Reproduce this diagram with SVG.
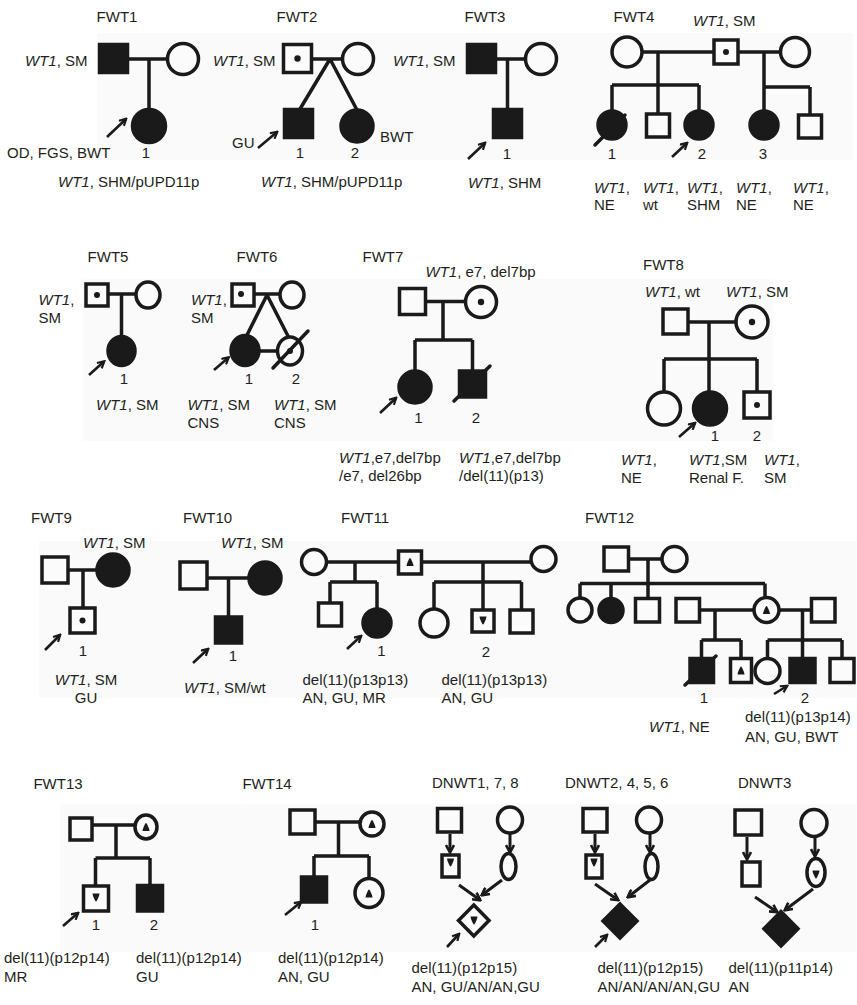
<svg xmlns="http://www.w3.org/2000/svg" width="857" height="1005" viewBox="0 0 857 1005">
<style>
text{font-family:"Liberation Sans",Arial,sans-serif;font-size:15px;fill:#231f20}
.i{font-style:italic}
.m{text-anchor:middle}
.c{fill:none;stroke:#1a1a1a;stroke-width:3.5;stroke-linecap:butt}
.o{fill:#fbfbfb;stroke:#1a1a1a;stroke-width:3.5}
.f{fill:#1a1a1a;stroke:#1a1a1a;stroke-width:3.5}
.d{fill:#1a1a1a}
.sl{stroke:#1a1a1a;stroke-width:3.5;stroke-linecap:round}
.pa{stroke:#1a1a1a;stroke-width:2.6;fill:none;marker-end:url(#ah)}
.da{stroke:#1a1a1a;stroke-width:3;fill:none;marker-end:url(#ah2)}
.bg{fill:#fafafa}
</style>
<defs>
<marker id="ah" viewBox="0 0 10 10" refX="8" refY="5" markerWidth="9" markerHeight="9" markerUnits="userSpaceOnUse" orient="auto"><path d="M1,1 L8.5,5 L1,9" fill="none" stroke="#1a1a1a" stroke-width="2.4"/></marker>
<marker id="ah2" viewBox="0 0 10 10" refX="8" refY="5" markerWidth="10" markerHeight="10" markerUnits="userSpaceOnUse" orient="auto"><path d="M1,1 L8.5,5 L1,9" fill="none" stroke="#1a1a1a" stroke-width="2.6"/></marker>
<path id="tri" d="M0,-4.5 C1,-4.5 3.5,2 3.5,3.5 L-3.5,3.5 C-3.5,2 -1,-4.5 0,-4.5Z"/>
<path id="itri" d="M0,4.5 C1,4.5 3.5,-2 3.5,-3.5 L-3.5,-3.5 C-3.5,-2 -1,4.5 0,4.5Z"/>
</defs>
<rect width="857" height="1005" fill="#fff"/>
<g id="backgrounds">
<rect class="bg" x="97" y="33" width="756" height="127"/>
<rect class="bg" x="83" y="279" width="690" height="162"/>
<rect class="bg" x="39" y="541" width="818" height="157"/>
<rect class="bg" x="60" y="804" width="797" height="148"/>
</g>

<g id="connectors">
<!-- FWT1 -->
<path class="c" d="M128,59 H167.5 M149,59 V109"/>
<!-- FWT2 -->
<path class="c" d="M312,59 H342.5 M330,59 L300,109 M330,59 L357,110"/>
<!-- FWT3 -->
<path class="c" d="M496,59 H525.5 M507.5,59 V109"/>
<!-- FWT4 -->
<path class="c" d="M642,52 H714 M738,52 H780.5 M658,52 V114 M612,85 H699 M612,85 V111 M699,85 V111 M764,52 V111 M764,87 H810 M810,87 V115"/>
<!-- FWT5 -->
<path class="c" d="M108,294 H136 M121.5,294 V336.5"/>
<!-- FWT6 -->
<path class="c" d="M254,294 H280 M267,295 L246.5,336 M267,295 L288.5,337 M259.5,351 H277"/>
<!-- FWT7 -->
<path class="c" d="M425.5,301.5 H465.5 M443,301.5 V340 M415,340 H472.5 M415,340 V370.5 M472.5,340 V371"/>
<!-- FWT8 -->
<path class="c" d="M688,322 H736 M709,322 V392 M664,359 H757 M664,359 V392 M757,359 V392"/>
<!-- FWT9 -->
<path class="c" d="M68,570 H97 M83,570 V608"/>
<!-- FWT10 -->
<path class="c" d="M207,578 H249 M228.5,578 V617"/>
<!-- FWT11 -->
<path class="c" d="M326.5,562 H398.5 M421.5,562 H531 M355,562 V582 M330,582 H377 M330,582 V603 M377,582 V609 M483,562 V610 M434,582 H521.5 M434,582 V609 M521.5,582 V610"/>
<!-- FWT12 -->
<path class="c" d="M628.5,559 H662 M648,559 V598.5 M580,583.5 H765 M580,583.5 V598 M611,583.5 V598.5 M765,583.5 V597.5 M699.5,610 H754 M779,610 H811.5 M715,610 V640 M701.5,640 H741 M701.5,640 V658.5 M741,640 V658.5 M802.5,610 V658.5 M767.5,640 H842 M767.5,640 V658.5 M842,640 V658.5"/>
<!-- FWT13 -->
<path class="c" d="M92,825 H135 M116,825 V858 M95.5,858 H150 M95.5,858 V886 M150,858 V885"/>
<!-- FWT14 -->
<path class="c" d="M315,822 H360 M338.5,822 V856 M314,856 H369 M314,856 V877 M369,856 V878.5"/>
<!-- DNWT arrows -->
<path class="da" d="M450,834 V852"/>
<path class="da" d="M510,834 V852"/>
<path class="da" d="M459,885 L480,900"/>
<path class="da" d="M502,880 L482,895"/>
<path class="da" d="M595,834 V852"/>
<path class="da" d="M650,834 V852"/>
<path class="da" d="M595,884 L618,900"/>
<path class="da" d="M650,880 L628,897"/>
<path class="da" d="M747,837 V859"/>
<path class="da" d="M815,838 V856"/>
<path class="da" d="M755,897 L777,912"/>
<path class="da" d="M813,889 L785,910"/>
<!-- proband arrows -->
<path class="pa" d="M107,137 L126,119"/>
<path class="pa" d="M258,148 L277,132"/>
<path class="pa" d="M468,159 L485,143"/>
<path class="pa" d="M672,157 L687,143"/>
<path class="pa" d="M89,375 L104,361.5"/>
<path class="pa" d="M214,370 L228.5,357.5"/>
<path class="pa" d="M380,413 L396,398"/>
<path class="pa" d="M679,437 L695,423"/>
<path class="pa" d="M45,650 L60,635"/>
<path class="pa" d="M193,663 L208,649"/>
<path class="pa" d="M347,649 L361,636"/>
<path class="pa" d="M774,694 L787,686"/>
<path class="pa" d="M63,926 L78,913"/>
<path class="pa" d="M285,915 L301,902"/>
<path class="pa" d="M447,947 L459,934"/>
<path class="pa" d="M595,947 L607,935"/>
</g>

<g id="FWT1">
<text x="117" y="22" class="m">FWT1</text>
<text x="25" y="66"><tspan class="i">WT1</tspan>, SM</text>
<rect class="f" x="99.5" y="44.5" width="28" height="28"/>
<circle class="o" cx="183" cy="59" r="15.5"/>
<circle class="f" cx="149" cy="126" r="16.5"/>
<text x="7" y="158">OD, FGS, BWT</text>
<text x="146" y="158" class="m">1</text>
<text x="58" y="187"><tspan class="i">WT1</tspan>, SHM/pUPD11p</text>
</g>

<g id="FWT2">
<text x="297" y="22" class="m">FWT2</text>
<text x="213" y="66"><tspan class="i">WT1</tspan>, SM</text>
<rect class="o" x="283.5" y="44.5" width="28" height="28"/>
<circle class="d" cx="297.5" cy="58.5" r="3.2"/>
<circle class="o" cx="358" cy="59" r="15.5"/>
<rect class="f" x="284.5" y="109.5" width="28" height="28"/>
<circle class="f" cx="357" cy="126" r="16"/>
<text x="232" y="148">GU</text>
<text x="380" y="142">BWT</text>
<text x="300" y="158" class="m">1</text>
<text x="355" y="158" class="m">2</text>
<text x="261" y="187"><tspan class="i">WT1</tspan>, SHM/pUPD11p</text>
</g>

<g id="FWT3">
<text x="485" y="22" class="m">FWT3</text>
<text x="393" y="66"><tspan class="i">WT1</tspan>, SM</text>
<rect class="f" x="467.5" y="44.5" width="28" height="28"/>
<circle class="o" cx="541" cy="59" r="15.5"/>
<rect class="f" x="493.5" y="109.5" width="28" height="28"/>
<text x="507" y="159" class="m">1</text>
<text x="468" y="188"><tspan class="i">WT1</tspan>, SHM</text>
</g>

<g id="FWT4">
<text x="634" y="22" class="m">FWT4</text>
<text x="693" y="26"><tspan class="i">WT1</tspan>, SM</text>
<circle class="o" cx="627" cy="52" r="15"/>
<rect class="o" x="714" y="40" width="24" height="24"/>
<circle class="d" cx="726" cy="52" r="3"/>
<circle class="o" cx="795" cy="52" r="14.5"/>
<circle class="f" cx="612" cy="125" r="14"/>
<line class="sl" x1="595" y1="145" x2="625" y2="115"/>
<rect class="o" x="646.5" y="114" width="23" height="23"/>
<circle class="f" cx="699" cy="125" r="14"/>
<circle class="f" cx="764" cy="125" r="14"/>
<rect class="o" x="798.5" y="115" width="23" height="23"/>
<text x="612" y="159" class="m">1</text>
<text x="702" y="159" class="m">2</text>
<text x="763" y="159" class="m">3</text>
<text x="594" y="193"><tspan class="i">WT1</tspan>,</text><text x="594" y="210">NE</text>
<text x="643" y="193"><tspan class="i">WT1</tspan>,</text><text x="643" y="210">wt</text>
<text x="687" y="193"><tspan class="i">WT1</tspan>,</text><text x="687" y="210">SHM</text>
<text x="736" y="193"><tspan class="i">WT1</tspan>,</text><text x="736" y="210">NE</text>
<text x="793" y="193"><tspan class="i">WT1</tspan>,</text><text x="793" y="210">NE</text>
</g>

<g id="FWT5">
<text x="108" y="262" class="m">FWT5</text>
<text x="38.5" y="305"><tspan class="i">WT1</tspan>,</text><text x="38.5" y="323">SM</text>
<rect class="o" x="86" y="284" width="22" height="22"/>
<circle class="d" cx="97" cy="295" r="3"/>
<ellipse class="o" cx="148" cy="295" rx="12" ry="13"/>
<ellipse class="f" cx="121.5" cy="351" rx="13.5" ry="14.5"/>
<text x="124" y="384" class="m">1</text>
<text x="96" y="410"><tspan class="i">WT1</tspan>, SM</text>
</g>

<g id="FWT6">
<text x="257" y="262" class="m">FWT6</text>
<text x="191" y="305"><tspan class="i">WT1</tspan>,</text><text x="191" y="323">SM</text>
<rect class="o" x="232" y="284" width="22" height="22"/>
<circle class="d" cx="241" cy="294" r="3"/>
<ellipse class="o" cx="292" cy="295" rx="12" ry="13"/>
<ellipse class="f" cx="245" cy="350.5" rx="14" ry="15"/>
<ellipse class="o" cx="290" cy="351" rx="12.5" ry="14"/>
<circle class="d" cx="290" cy="351" r="3"/>
<line class="sl" x1="273" y1="368" x2="308" y2="331"/>
<text x="249" y="384" class="m">1</text>
<text x="296" y="384" class="m">2</text>
<text x="187.5" y="410"><tspan class="i">WT1</tspan>, SM</text><text x="187.5" y="428">CNS</text>
<text x="274" y="410"><tspan class="i">WT1</tspan>, SM</text><text x="274" y="428">CNS</text>
</g>

<g id="FWT7">
<text x="362.5" y="262">FWT7</text>
<text x="425.5" y="277"><tspan class="i">WT1</tspan>, e7, del7bp</text>
<rect class="o" x="399.5" y="288.5" width="26" height="26"/>
<circle class="o" cx="481" cy="302" r="15.5"/>
<circle class="d" cx="481" cy="302" r="3.2"/>
<circle class="f" cx="415" cy="387" r="16"/>
<rect class="f" x="459.5" y="371" width="26" height="26"/>
<line class="sl" x1="454" y1="401" x2="490" y2="366"/>
<text x="418.5" y="423" class="m">1</text>
<text x="476" y="423" class="m">2</text>
<text x="339" y="463"><tspan class="i">WT1</tspan>,e7,del7bp</text><text x="339" y="481">/e7, del26bp</text>
<text x="459" y="463"><tspan class="i">WT1</tspan>,e7,del7bp</text><text x="459" y="481">/del(11)(p13)</text>
</g>

<g id="FWT8">
<text x="643" y="270">FWT8</text>
<text x="645" y="297"><tspan class="i">WT1</tspan>, wt</text>
<text x="726" y="297"><tspan class="i">WT1</tspan>, SM</text>
<rect class="o" x="663" y="309" width="25" height="25"/>
<circle class="o" cx="752" cy="322" r="16"/>
<circle class="d" cx="752" cy="322" r="3.2"/>
<circle class="o" cx="664" cy="408.5" r="16.5"/>
<circle class="f" cx="710" cy="408.5" r="16.5"/>
<rect class="o" x="744" y="392" width="26" height="26"/>
<circle class="d" cx="757" cy="405" r="3"/>
<text x="715" y="441" class="m">1</text>
<text x="757" y="441" class="m">2</text>
<text x="621" y="465"><tspan class="i">WT1</tspan>,</text><text x="621" y="483">NE</text>
<text x="689" y="465"><tspan class="i">WT1</tspan>,SM</text><text x="689" y="483">Renal F.</text>
<text x="764" y="465"><tspan class="i">WT1</tspan>,</text><text x="764" y="483">SM</text>
</g>

<g id="FWT9">
<text x="31" y="523">FWT9</text>
<text x="83" y="548"><tspan class="i">WT1</tspan>, SM</text>
<rect class="o" x="42" y="557" width="26" height="26"/>
<circle class="f" cx="113" cy="570" r="16"/>
<rect class="o" x="70" y="608" width="25" height="25"/>
<circle class="d" cx="82.5" cy="620.5" r="3"/>
<text x="83" y="656" class="m">1</text>
<text x="86" y="685" class="m"><tspan class="i">WT1</tspan>, SM</text>
<text x="86" y="703" class="m">GU</text>
</g>

<g id="FWT10">
<text x="183" y="523">FWT10</text>
<text x="221" y="548"><tspan class="i">WT1</tspan>, SM</text>
<rect class="o" x="180" y="562" width="27" height="27"/>
<circle class="f" cx="265" cy="578" r="16"/>
<rect class="f" x="215.5" y="617" width="26" height="26"/>
<text x="233" y="661" class="m">1</text>
<text x="184" y="693"><tspan class="i">WT1</tspan>, SM/wt</text>
</g>

<g id="FWT11">
<text x="341" y="523">FWT11</text>
<circle class="o" cx="314" cy="562" r="12.5"/>
<rect class="o" x="398.5" y="551" width="23" height="23"/>
<use href="#tri" x="410" y="562.5" class="d"/>
<circle class="o" cx="543.5" cy="559" r="12.5"/>
<rect class="o" x="318.5" y="603" width="23" height="23"/>
<circle class="f" cx="377" cy="623" r="14"/>
<circle class="o" cx="434" cy="623" r="14"/>
<rect class="o" x="472" y="610" width="22" height="22"/>
<use href="#itri" x="483" y="620" class="d"/>
<rect class="o" x="510" y="610" width="23" height="23"/>
<text x="381.5" y="656" class="m">1</text>
<text x="486" y="657" class="m">2</text>
<text x="302.5" y="685">del(11)(p13p13)</text><text x="302.5" y="703">AN, GU, MR</text>
<text x="441.5" y="685">del(11)(p13p13)</text><text x="441.5" y="703">AN, GU</text>
</g>

<g id="FWT12">
<text x="585" y="523">FWT12</text>
<rect class="o" x="604" y="547" width="24.5" height="24"/>
<circle class="o" cx="674.5" cy="559" r="12.5"/>
<circle class="o" cx="580" cy="610" r="12"/>
<circle class="f" cx="611" cy="610.5" r="12"/>
<rect class="o" x="635.5" y="598.5" width="24" height="23.5"/>
<rect class="o" x="676" y="598.5" width="23.5" height="23.5"/>
<circle class="o" cx="766.5" cy="610" r="12.5"/>
<use href="#tri" x="766.5" y="610.5" class="d"/>
<rect class="o" x="811.5" y="598.5" width="23.5" height="23.5"/>
<rect class="f" x="690" y="658.5" width="23.5" height="24"/>
<line class="sl" x1="685" y1="685" x2="716" y2="656"/>
<rect class="o" x="730.5" y="658.5" width="21" height="24"/>
<use href="#tri" x="741" y="671" class="d"/>
<circle class="o" cx="767.5" cy="671" r="12.5"/>
<rect class="f" x="790" y="658.5" width="25" height="24"/>
<rect class="o" x="830" y="658.5" width="24" height="24"/>
<text x="704" y="703" class="m">1</text>
<text x="805" y="703" class="m">2</text>
<text x="649" y="732"><tspan class="i">WT1</tspan>, NE</text>
<text x="745" y="722">del(11)(p13p14)</text><text x="745" y="742">AN, GU, BWT</text>
</g>

<g id="FWT13">
<text x="58" y="789" class="m">FWT13</text>
<rect class="o" x="70" y="818" width="22" height="22"/>
<ellipse class="o" cx="146" cy="827" rx="11" ry="12"/>
<use href="#tri" x="146" y="827.5" class="d"/>
<rect class="o" x="83.5" y="886" width="25" height="25"/>
<use href="#itri" x="96" y="897" class="d"/>
<rect class="f" x="137.5" y="885.5" width="25" height="25.5"/>
<text x="96" y="930" class="m">1</text>
<text x="154" y="930" class="m">2</text>
<text x="4" y="963">del(11)(p12p14)</text><text x="4" y="982">MR</text>
<text x="136" y="963">del(11)(p12p14)</text><text x="136" y="982">GU</text>
</g>

<g id="FWT14">
<text x="267" y="789" class="m">FWT14</text>
<rect class="o" x="290" y="810" width="25" height="24"/>
<circle class="o" cx="372" cy="824" r="12"/>
<use href="#tri" x="372" y="824.5" class="d"/>
<rect class="f" x="301.5" y="877" width="25" height="25"/>
<ellipse class="o" cx="369" cy="893" rx="14" ry="14.5"/>
<use href="#tri" x="369" y="894" class="d"/>
<text x="315" y="930" class="m">1</text>
<text x="278" y="963">del(11)(p12p14)</text><text x="278" y="982">AN, GU</text>
</g>

<g id="DNWT1">
<text x="432" y="788">DNWT1, 7, 8</text>
<rect class="o" x="437.5" y="808.5" width="24" height="23.5"/>
<ellipse class="o" cx="510" cy="820" rx="12.5" ry="13"/>
<rect class="o" x="442" y="855" width="17" height="22"/>
<use href="#itri" x="450.5" y="862" class="d"/>
<ellipse class="o" cx="508.5" cy="866.5" rx="7.5" ry="13"/>
<path class="o" d="M473.8,905 L489,920.5 L473.8,936 L458.5,920.5Z"/>
<use href="#itri" x="474" y="920" class="d"/>
<text x="411.5" y="973">del(11)(p12p15)</text><text x="411.5" y="992">AN, GU/AN/AN,GU</text>
</g>

<g id="DNWT2">
<text x="565" y="788">DNWT2, 4, 5, 6</text>
<rect class="o" x="583" y="808.5" width="24" height="23.5"/>
<ellipse class="o" cx="649" cy="820" rx="12.5" ry="13"/>
<rect class="o" x="586" y="855" width="16" height="23"/>
<use href="#itri" x="594" y="862" class="d"/>
<ellipse class="o" cx="651.5" cy="866.5" rx="6.5" ry="13"/>
<path class="f" d="M620,904 L637,921 L620,938 L603,921Z"/>
<text x="597.5" y="973">del(11)(p12p15)</text><text x="597.5" y="992">AN/AN/AN/AN,GU</text>
</g>

<g id="DNWT3">
<text x="738" y="788">DNWT3</text>
<rect class="o" x="735" y="810" width="26.5" height="25"/>
<ellipse class="o" cx="814" cy="823" rx="13" ry="13.5"/>
<rect class="o" x="742" y="862" width="18" height="24"/>
<ellipse class="o" cx="816" cy="872.5" rx="9" ry="14"/>
<use href="#itri" x="816" y="874" class="d"/>
<path class="f" d="M781,911.5 L798,928.8 L781,946 L764,928.8Z"/>
<text x="728.5" y="973">del(11)(p11p14)</text><text x="728.5" y="992">AN</text>
</g>
</svg>
